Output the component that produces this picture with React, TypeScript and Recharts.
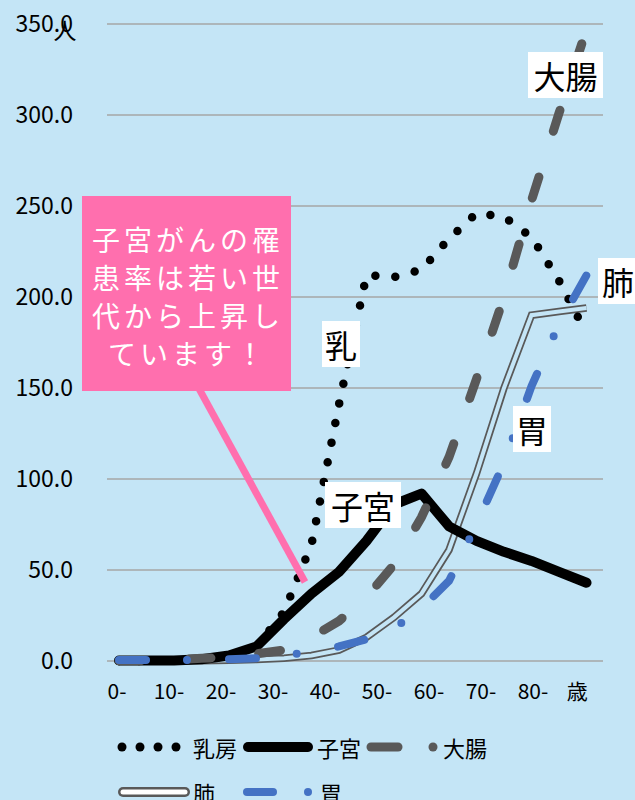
import React from 'react';
import { LineChart, Line, XAxis, YAxis, CartesianGrid, Legend } from 'recharts';

// 女性・部位別 年齢階級別罹患率（人口10万対）
const ageGroups = ['0-4', '5-9', '10-14', '15-19', '20-24', '25-29', '30-34', '35-39', '40-44',
  '45-49', '50-54', '55-59', '60-64', '65-69', '70-74', '75-79', '80-84', '85-'];
const ageStart = [0, 5, 10, 15, 20, 25, 30, 35, 40, 45, 50, 55, 60, 65, 70, 75, 80, 85];

const breast = [0, 0, 0.3, 1, 3, 8, 27, 64, 141, 212, 211, 215, 232, 246, 244, 233, 209, 180];
const uterus = [0.3, 0.3, 0.3, 1, 3, 8, 23, 37, 49, 66, 86, 92, 74, 66, 60, 55, 49, 43];
const colon = [0.1, 0.2, 0.5, 1.5, 2, 4, 6, 13, 22, 35, 53, 79, 112, 155, 200, 253, 301, 347];
const lung = [0, 0, 0.1, 0.2, 0.4, 0.8, 1.5, 3, 6, 13, 24, 37, 61, 103, 150, 190, 192, 194];
const stomach = [0.5, 0.5, 0.5, 0.7, 1, 1.5, 3, 5, 8, 12, 18, 29, 44, 75, 109, 151, 185, 212];

const yTicks = [0, 50, 100, 150, 200, 250, 300, 350];
const xLabels = ['0-', '10-', '20-', '30-', '40-', '50-', '60-', '70-', '80-', '歳'];
const xLabelAt = [0, 10, 20, 30, 40, 50, 60, 70, 80, 88.5];

const calloutLines = ['子宮がんの罹', '患率は若い世', '代から上昇し', 'ています！'];

const BG = '#C4E5F6';
const PINK = '#FF6FAE';
const GRAY = '#595959';
const BLUE = '#4472C4';
const FONT = "'Noto Sans CJK JP', 'Noto Sans', sans-serif";

const data = ageGroups.map((age, i) => ({
  age,
  yr: ageStart[i],
  breast: breast[i],
  uterus: uterus[i],
  colon: colon[i],
  lung: lung[i],
  stomach: stomach[i],
}));

// labels sitting on the lines
const tags = [
  { text: '大腸', x: 528, y: 52, w: 75 },
  { text: '肺', x: 598, y: 258, w: 40 },
  { text: '乳', x: 322, y: 321, w: 38 },
  { text: '子宮', x: 325, y: 482, w: 76 },
  { text: '胃', x: 513, y: 406, w: 38 },
];

function ChartLegend() {
  const r1 = 36;
  const r2 = 81;
  return (
    <svg width={635} height={89} style={{ display: 'block', overflow: 'visible' }}>
      {[122, 140, 158, 176].map(cx => <circle key={cx} cx={cx} cy={r1} r={4.5} fill="#000" />)}
      <text x={193} y={r1} fontSize={22} dominantBaseline="central">乳房</text>
      <line x1={248} y1={r1} x2={308} y2={r1} stroke="#000" strokeWidth={10} strokeLinecap="round" />
      <text x={317} y={r1} fontSize={22} dominantBaseline="central">子宮</text>
      <line x1={371} y1={r1} x2={398} y2={r1} stroke={GRAY} strokeWidth={9} strokeLinecap="round" />
      <circle cx={433} cy={r1} r={4.5} fill={GRAY} />
      <text x={443} y={r1} fontSize={22} dominantBaseline="central">大腸</text>

      <line x1={123} y1={r2} x2={185} y2={r2} stroke={GRAY} strokeWidth={10} strokeLinecap="round" />
      <line x1={123} y1={r2} x2={185} y2={r2} stroke="#fff" strokeWidth={5} strokeLinecap="round" />
      <text x={193} y={r2} fontSize={22} dominantBaseline="central">肺</text>
      <line x1={247} y1={r2} x2={273} y2={r2} stroke={BLUE} strokeWidth={8} strokeLinecap="round" />
      <circle cx={308} cy={r2} r={4} fill={BLUE} />
      <text x={320} y={r2} fontSize={22} dominantBaseline="central">胃</text>
    </svg>
  );
}

export default function App() {
  return (
    <div style={{ position: 'relative', width: 635, height: 800, background: BG, fontFamily: FONT, overflow: 'hidden' }}>
      <style>{'body{margin:0}'}</style>
      <LineChart width={635} height={800} data={data} margin={{ top: 24, right: 32, bottom: 0, left: 0 }}>
        <CartesianGrid vertical={false} stroke="#A6A6A6" strokeWidth={1.5} />
        <XAxis
          dataKey="age"
          type="category"
          height={0}
          padding={{ left: 12, right: 16.5 }}
          tick={false}
          tickLine={false}
          axisLine={{ stroke: '#D9D9D9', strokeWidth: 2 }}
        />
        <XAxis
          xAxisId="lbl"
          dataKey="yr"
          type="number"
          domain={[-1.923, 93.46]}
          allowDataOverflow
          ticks={xLabelAt}
          interval={0}
          height={50}
          axisLine={false}
          tickLine={false}
          tickSize={0}
          tickMargin={23}
          tick={{ fill: '#000', fontSize: 21 }}
          tickFormatter={(v: number) => xLabels[xLabelAt.indexOf(v)] ?? ''}
        />
        <YAxis
          width={107}
          domain={[0, 350]}
          ticks={yTicks}
          interval={0}
          axisLine={false}
          tickLine={false}
          tickSize={0}
          tickMargin={34}
          tick={{ fill: '#000', fontSize: 23 }}
          tickFormatter={(v: number) => v.toFixed(1)}
        />
        <Legend verticalAlign="bottom" content={() => <ChartLegend />} wrapperStyle={{ left: 0, width: 635 }} />

        <Line name="肺" dataKey="lung" type="linear" stroke={GRAY} strokeWidth={7.5} strokeLinejoin="miter"
          dot={false} activeDot={false} isAnimationActive={false} />
        <Line name="肺-inner" dataKey="lung" type="linear" stroke={BG} strokeWidth={4} strokeLinejoin="miter"
          dot={false} activeDot={false} isAnimationActive={false} legendType="none" />
        <Line name="乳房" dataKey="breast" type="linear" stroke="#000" strokeWidth={8.5} strokeDasharray="0 20"
          strokeLinecap="round" dot={false} activeDot={false} isAnimationActive={false} />
        <Line name="子宮" dataKey="uterus" type="linear" stroke="#000" strokeWidth={10} strokeLinecap="round"
          strokeLinejoin="round" dot={false} activeDot={false} isAnimationActive={false} />
        <Line name="大腸" dataKey="colon" type="linear" stroke={GRAY} strokeWidth={9} strokeDasharray="22 48"
          strokeLinecap="round" dot={false} activeDot={false} isAnimationActive={false} />
        <Line name="胃" dataKey="stomach" type="linear" stroke={BLUE} strokeWidth={8} strokeDasharray="27 41 0 42"
          strokeLinecap="round" dot={false} activeDot={false} isAnimationActive={false} />
      </LineChart>

      <svg width={635} height={800} style={{ position: 'absolute', left: 0, top: 0, pointerEvents: 'none' }}>
        <text x={65} y={29} fontSize={23} textAnchor="middle" dominantBaseline="central">人</text>
        <line x1={197} y1={385} x2={305} y2={582} stroke={PINK} strokeWidth={7} />
        <rect x={82} y={196} width={209} height={195} fill={PINK} />
        {calloutLines.map((t, i) => (
          <text key={t} x={188} y={239 + i * 38} fontSize={28} letterSpacing={4} fill="#fff"
            textAnchor="middle" dominantBaseline="central">{t}</text>
        ))}
        {tags.map(t => (
          <g key={t.text}>
            <rect x={t.x} y={t.y} width={t.w} height={46} fill="#fff" />
            <text x={t.x + t.w / 2} y={t.y + 23} fontSize={32} textAnchor="middle" dominantBaseline="central">{t.text}</text>
          </g>
        ))}
      </svg>
    </div>
  );
}
